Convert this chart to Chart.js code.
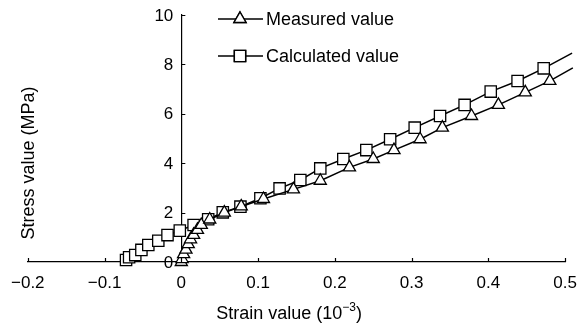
<!DOCTYPE html>
<html>
<head>
<meta charset="utf-8">
<script src="https://cdn.jsdelivr.net/npm/chart.js@4/dist/chart.umd.min.js"></script>
<style>
  body { margin: 0; background: #fff; }
  canvas { display: block; }
</style>
</head>
<body>
<canvas id="stressChart" width="588" height="327"></canvas>
<script>
// strain (10^-3) and stress (MPa)
let measuredStrain = [0, 0.001, 0.003, 0.006, 0.009, 0.012, 0.016, 0.021, 0.026, 0.037, 0.056, 0.078, 0.107, 0.146, 0.181, 0.219, 0.250, 0.277, 0.311, 0.340, 0.378, 0.413, 0.448, 0.480, 0.510];
let measuredStress = [0, 0.12, 0.32, 0.50, 0.72, 0.92, 1.10, 1.30, 1.50, 1.72, 2.00, 2.25, 2.55, 2.94, 3.29, 3.83, 4.17, 4.53, 4.97, 5.44, 5.91, 6.36, 6.87, 7.33, 7.86];

let calcStrain = [-0.072, -0.068, -0.060, -0.052, -0.043, -0.030, -0.018, -0.002, 0.016, 0.035, 0.054, 0.077, 0.103, 0.128, 0.155, 0.181, 0.211, 0.241, 0.272, 0.304, 0.337, 0.369, 0.403, 0.438, 0.472, 0.509];
let calcStress = [0.08, 0.19, 0.28, 0.49, 0.69, 0.86, 1.09, 1.27, 1.50, 1.73, 2.01, 2.24, 2.58, 2.98, 3.32, 3.79, 4.17, 4.53, 4.97, 5.44, 5.91, 6.36, 6.90, 7.33, 7.84, 8.46];

let xTicks = [-0.2, -0.1, 0, 0.1, 0.2, 0.3, 0.4, 0.5];
let yTicks = [0, 2, 4, 6, 8, 10];

let seriesNames = ['Measured value', 'Calculated value'];

const FONT = 'Arial, "Liberation Sans", sans-serif';

function toPoints(xs, ys) {
    return xs.map((x, i) => ({ x: x, y: ys[i] }));
}

// last point of each series is only where the line runs off, no marker
function markerRadius(r) {
    return ctx => ctx.dataIndex === ctx.dataset.data.length - 1 ? 0 : r;
}

// inward tick marks, y labels, axis titles and the line+marker legend
const extras = {
    id: 'extras',
    afterDraw(chart) {
        const c = chart.ctx;
        const xs = chart.scales.x, ys = chart.scales.y;
        const x0 = xs.getPixelForValue(0), y0 = ys.getPixelForValue(0);
        c.save();
        c.strokeStyle = '#000';
        c.lineWidth = 1.2;
        c.beginPath();
        xTicks.forEach(v => {
            const px = Math.round(xs.getPixelForValue(v)) + 0.5;
            c.moveTo(px, y0);
            c.lineTo(px, y0 - 4);
        });
        yTicks.forEach(v => {
            const py = Math.round(ys.getPixelForValue(v)) + 0.5;
            c.moveTo(x0, py);
            c.lineTo(x0 + 4, py);
        });
        c.stroke();

        c.fillStyle = '#000';
        c.font = '17px ' + FONT;
        c.textAlign = 'right';
        c.textBaseline = 'middle';
        yTicks.forEach(v => {
            c.fillText(String(v), x0 - 8, ys.getPixelForValue(v) + 1);
        });

        // x title with superscript exponent
        c.font = '18px ' + FONT;
        const main = 'Strain value (10';
        const sup = '\u22123';
        const wMain = c.measureText(main).width;
        const wClose = c.measureText(')').width;
        c.font = '12px ' + FONT;
        const wSup = c.measureText(sup).width;
        let tx = 289 - (wMain + wSup + wClose) / 2;
        c.textAlign = 'left';
        c.font = '18px ' + FONT;
        c.fillText(main, tx, 314);
        c.font = '12px ' + FONT;
        c.fillText(sup, tx + wMain, 308);
        c.font = '18px ' + FONT;
        c.fillText(')', tx + wMain + wSup, 314);

        c.save();
        c.textAlign = 'center';
        c.translate(29, 163);
        c.rotate(-Math.PI / 2);
        c.fillText('Stress value (MPa)', 0, 0);
        c.restore();

        // legend
        c.textAlign = 'left';
        chart.data.datasets.forEach((ds, i) => {
            const ly = 19 + i * 37;
            c.lineWidth = 1.4;
            c.beginPath();
            c.moveTo(218, ly);
            c.lineTo(263, ly);
            c.stroke();
            Chart.helpers.drawPoint(c, {
                pointStyle: ds.pointStyle,
                radius: ds.legendRadius,
                borderWidth: 1.3
            }, 240, ly);
            c.fillStyle = '#fff';
            c.fill();
            c.stroke();
            c.fillStyle = '#000';
            c.fillText(ds.label, 266, ly + 1);
        });
        c.restore();
    }
};

const ctx = document.getElementById('stressChart').getContext('2d');
const chart = new Chart(ctx, {
    type: 'line',
    data: {
        datasets: [
            {
                label: seriesNames[0],
                data: toPoints(measuredStrain, measuredStress),
                borderColor: '#000',
                backgroundColor: '#fff',
                borderWidth: 1.5,
                pointStyle: 'triangle',
                pointRadius: markerRadius(7),
                legendRadius: 7,
                pointBorderWidth: 1.3,
                pointBackgroundColor: '#fff',
                tension: 0,
                clip: false
            },
            {
                label: seriesNames[1],
                data: toPoints(calcStrain, calcStress),
                borderColor: '#000',
                backgroundColor: '#fff',
                borderWidth: 1.5,
                pointStyle: 'rect',
                pointRadius: markerRadius(8),
                legendRadius: 8,
                pointBorderWidth: 1.3,
                pointBackgroundColor: '#fff',
                tension: 0,
                clip: false
            }
        ]
    },
    options: {
        responsive: false,
        animation: false,
        devicePixelRatio: 1,
        layout: { padding: { left: 21, right: 13, top: 15, bottom: 65 } },
        plugins: {
            legend: { display: false },
            tooltip: { enabled: false }
        },
        scales: {
            x: {
                type: 'linear',
                position: { y: 0 },
                min: -0.2,
                max: 0.5,
                afterBuildTicks: axis => { axis.ticks = xTicks.map(v => ({ value: v })); },
                grid: { drawOnChartArea: false, drawTicks: false },
                border: { color: '#000', width: 1.2 },
                ticks: {
                    color: '#000',
                    padding: 11,
                    font: { family: FONT, size: 17 },
                    callback: v => v < 0 ? '\u2212' + Math.abs(v) : String(v)
                }
            },
            y: {
                type: 'linear',
                position: { x: 0 },
                min: 0,
                max: 10,
                afterBuildTicks: axis => { axis.ticks = yTicks.map(v => ({ value: v })); },
                grid: { drawOnChartArea: false, drawTicks: false },
                border: { color: '#000', width: 1.2 },
                ticks: { display: false }
            }
        }
    },
    plugins: [extras]
});
</script>
</body>
</html>
